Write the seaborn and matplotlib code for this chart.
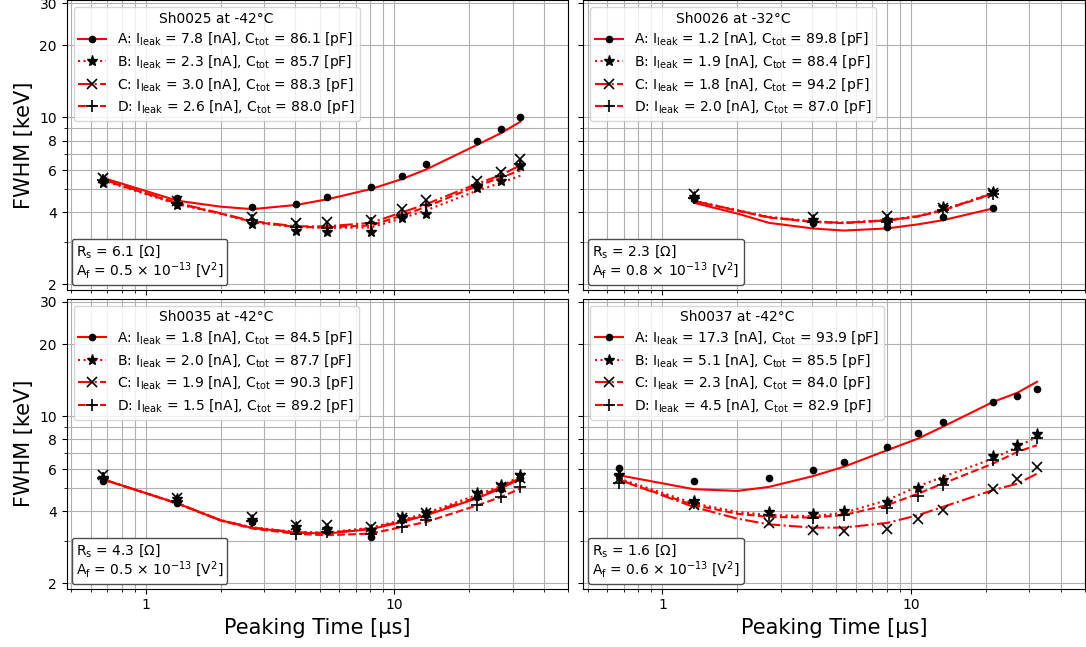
import matplotlib
matplotlib.use("Agg")
import matplotlib.pyplot as plt
import seaborn as sns
from matplotlib.lines import Line2D
from matplotlib.ticker import NullFormatter, FixedLocator, FixedFormatter
from matplotlib.offsetbox import AnchoredText

plt.rcParams['font.family'] = ['DejaVu Sans']

# ---------------- data ----------------
t_data = [0.67, 1.34, 2.68, 4.02, 5.36, 8.04, 10.72, 13.4, 21.44, 26.8, 32.16]
t_fit = [0.67, 1.34, 2.0, 2.68, 4.02, 5.36, 8.04, 10.72, 13.4, 21.44, 26.8, 32.16]
t_data_26 = [1.34, 4.02, 8.04, 13.4, 21.44]
t_fit_26 = [1.34, 2.0, 2.68, 4.02, 5.36, 8.04, 10.72, 13.4, 21.44]

# Sh0025 at -42 C
sh25_A = [5.5, 4.6, 4.2, 4.35, 4.65, 5.1, 5.7, 6.4, 8.0, 8.9, 10.0]
sh25_B = [5.3, 4.3, 3.58, 3.34, 3.30, 3.32, 3.78, 3.96, 5.05, 5.41, 6.27]
sh25_C = [5.6, 4.45, 3.84, 3.60, 3.66, 3.71, 4.13, 4.51, 5.41, 5.92, 6.69]
sh25_D = [5.45, 4.4, 3.71, 3.48, 3.43, 3.60, 3.90, 4.30, 5.21, 5.70, 6.36]
sh25_fit_A = [5.59, 4.48, 4.23, 4.13, 4.30, 4.54, 5.01, 5.52, 6.05, 7.66, 8.58, 9.59]
sh25_fit_B = [5.45, 4.33, 3.95, 3.64, 3.47, 3.45, 3.46, 3.78, 4.08, 4.93, 5.32, 5.70]
sh25_fit_C = [5.50, 4.38, 3.97, 3.68, 3.50, 3.50, 3.62, 4.00, 4.33, 5.27, 5.73, 6.30]
sh25_fit_D = [5.48, 4.36, 3.96, 3.66, 3.48, 3.47, 3.53, 3.88, 4.22, 5.16, 5.60, 6.00]

# Sh0026 at -32 C
sh26_A = [4.55, 3.60, 3.48, 3.82, 4.16]
sh26_B = [4.65, 3.71, 3.71, 4.20, 4.89]
sh26_C = [4.80, 3.84, 3.86, 4.16, 4.84]
sh26_D = [4.60, 3.65, 3.65, 4.10, 4.78]
sh26_fit_A = [4.39, 3.96, 3.62, 3.43, 3.36, 3.43, 3.57, 3.71, 4.16]
sh26_fit_B = [4.48, 4.09, 3.84, 3.67, 3.63, 3.72, 3.87, 4.10, 4.83]
sh26_fit_C = [4.47, 4.08, 3.82, 3.66, 3.62, 3.71, 3.86, 4.09, 4.81]
sh26_fit_D = [4.46, 4.07, 3.81, 3.65, 3.61, 3.70, 3.85, 4.08, 4.79]

# Sh0035 at -42 C
sh35_A = [5.35, 4.35, 3.61, 3.37, 3.30, 3.13, 3.67, 3.86, 4.60, 4.98, 5.50]
sh35_B = [5.52, 4.50, 3.67, 3.44, 3.37, 3.34, 3.79, 3.95, 4.75, 5.14, 5.66]
sh35_C = [5.66, 4.55, 3.79, 3.50, 3.50, 3.44, 3.76, 3.95, 4.68, 5.06, 5.52]
sh35_D = [5.50, 4.40, 3.64, 3.23, 3.28, 3.23, 3.44, 3.67, 4.25, 4.59, 5.06]
sh35_fit_A = [5.45, 4.32, 3.67, 3.41, 3.26, 3.23, 3.37, 3.61, 3.85, 4.53, 4.98, 5.48]
sh35_fit_B = [5.45, 4.33, 3.68, 3.43, 3.28, 3.26, 3.42, 3.68, 3.93, 4.68, 5.10, 5.60]
sh35_fit_C = [5.45, 4.32, 3.67, 3.42, 3.27, 3.25, 3.39, 3.64, 3.89, 4.58, 5.04, 5.52]
sh35_fit_D = [5.45, 4.31, 3.66, 3.39, 3.22, 3.18, 3.23, 3.44, 3.61, 4.23, 4.59, 4.98]

# Sh0037 at -42 C
sh37_A = [6.08, 5.36, 5.54, 5.94, 6.44, 7.40, 8.47, 9.47, 11.41, 12.16, 12.98]
sh37_B = [5.66, 4.42, 3.98, 3.89, 4.02, 4.38, 5.03, 5.39, 6.80, 7.56, 8.41]
sh37_C = [5.48, 4.25, 3.58, 3.34, 3.32, 3.36, 3.70, 4.05, 4.98, 5.48, 6.14]
sh37_D = [5.26, 4.33, 3.86, 3.77, 3.86, 4.15, 4.62, 5.14, 6.55, 7.21, 8.07]
sh37_fit_A = [5.66, 4.95, 4.87, 5.06, 5.61, 6.14, 7.21, 8.07, 9.02, 11.48, 12.52, 13.92]
sh37_fit_B = [5.48, 4.32, 3.98, 3.86, 3.82, 3.94, 4.46, 5.10, 5.57, 6.65, 7.44, 8.20]
sh37_fit_C = [5.43, 4.17, 3.73, 3.53, 3.42, 3.42, 3.58, 3.86, 4.17, 4.91, 5.22, 5.75]
sh37_fit_D = [5.39, 4.25, 3.91, 3.79, 3.77, 3.86, 4.25, 4.75, 5.22, 6.34, 7.09, 7.56]

titles = ["Sh0025 at -42°C", "Sh0026 at -32°C", "Sh0035 at -42°C", "Sh0037 at -42°C"]
ileak = [[7.8, 2.3, 3.0, 2.6], [1.2, 1.9, 1.8, 2.0], [1.8, 2.0, 1.9, 1.5], [17.3, 5.1, 2.3, 4.5]]
ctot = [[86.1, 85.7, 88.3, 88.0], [89.8, 88.4, 94.2, 87.0], [84.5, 87.7, 90.3, 89.2], [93.9, 85.5, 84.0, 82.9]]
rs_vals = [6.1, 2.3, 4.3, 1.6]
af_vals = [0.5, 0.8, 0.5, 0.6]
channel_names = ["A", "B", "C", "D"]
y_ticks = [2, 4, 6, 8, 10, 20, 30]

panels = [
    (t_data, t_fit, [sh25_A, sh25_B, sh25_C, sh25_D], [sh25_fit_A, sh25_fit_B, sh25_fit_C, sh25_fit_D]),
    (t_data_26, t_fit_26, [sh26_A, sh26_B, sh26_C, sh26_D], [sh26_fit_A, sh26_fit_B, sh26_fit_C, sh26_fit_D]),
    (t_data, t_fit, [sh35_A, sh35_B, sh35_C, sh35_D], [sh35_fit_A, sh35_fit_B, sh35_fit_C, sh35_fit_D]),
    (t_data, t_fit, [sh37_A, sh37_B, sh37_C, sh37_D], [sh37_fit_A, sh37_fit_B, sh37_fit_C, sh37_fit_D]),
]

# ---------------- styles ----------------
line_styles = ['-', ':', '-.', '--']
markers = ['o', '*', 'x', '+']
msizes = [4.5, 8, 7, 8]
mews = [1.0, 1.0, 1.2, 1.2]

fig, axes = plt.subplots(2, 2, figsize=(10.86, 6.47), dpi=100, sharex=True, sharey=True)
W = 0.4616
positions = [
    [0.0614, 0.5522, W, 0.4478],
    [0.5371, 0.5522, W, 0.4478],
    [0.0614, 0.0901, W, 0.4484],
    [0.5371, 0.0901, W, 0.4484],
]

for i, ax in enumerate(axes.flat):
    ax.set_position(positions[i])
    td, tf, data, fits = panels[i]
    ax.set_xscale('log')
    ax.set_yscale('log')
    for k in range(4):
        sns.lineplot(x=tf, y=fits[k], ax=ax, color='red', linestyle=line_styles[k],
                     linewidth=1.5, estimator=None, sort=False, legend=False, zorder=2)
        sns.lineplot(x=td, y=data[k], ax=ax, color='k', linestyle='', marker=markers[k],
                     markersize=msizes[k], markerfacecolor='k', markeredgecolor='k',
                     markeredgewidth=mews[k], estimator=None, sort=False, legend=False, zorder=3)
    handles = [Line2D([], [], color='red', ls=line_styles[k], lw=1.5, marker=markers[k],
                      ms=msizes[k], mfc='k', mec='k', mew=mews[k]) for k in range(4)]
    labels = [rf"{channel_names[k]}: I$_{{\rm leak}}$ = {ileak[i][k]:.1f} [nA], "
              rf"C$_{{\rm tot}}$ = {ctot[i][k]:.1f} [pF]" for k in range(4)]
    ax.legend(handles, labels, title=titles[i], loc='upper left', fontsize=10,
              title_fontsize=10, labelspacing=0.33, borderpad=0.35)
    txt = (r"R$_{\rm s}$ = " + f"{rs_vals[i]:.1f} [Ω]\n" +
           r"A$_{\rm f}$ = " + f"{af_vals[i]:.1f} × " + r"10$^{-13}$ [V$^2$]")
    at = AnchoredText(txt, loc='lower left', prop=dict(size=10, linespacing=1.05),
                      frameon=True, pad=0.3, borderpad=0.35)
    at.patch.set_boxstyle("round,pad=0.,rounding_size=0.2")
    at.patch.set_edgecolor('0.3')
    at.set_zorder(6)
    ax.add_artist(at)

    ax.set_xlim(0.48, 50)
    ax.set_ylim(1.9, 31)
    ax.yaxis.set_major_locator(FixedLocator(y_ticks))
    ax.yaxis.set_major_formatter(FixedFormatter([str(v) for v in y_ticks]))
    ax.yaxis.set_minor_formatter(NullFormatter())
    ax.xaxis.set_major_locator(FixedLocator([1, 10]))
    ax.xaxis.set_major_formatter(FixedFormatter(['1', '10']))
    ax.xaxis.set_minor_formatter(NullFormatter())
    ax.grid(True, which='both', color='#b0b0b0', linewidth=0.8)
    ax.set_axisbelow(True)
    ax.tick_params(labelsize=10)
    ax.set_xlabel('')
    ax.set_ylabel('')

for ax in axes[1, :]:
    ax.set_xlabel('Peaking Time [µs]', fontsize=15)
for ax in axes[:, 0]:
    ax.set_ylabel('FWHM [keV]', fontsize=15)
for ax in axes[0, :]:
    ax.tick_params(labelbottom=False)
for ax in axes[:, 1]:
    ax.tick_params(labelleft=False)

fig.savefig('out.png', dpi=100)
